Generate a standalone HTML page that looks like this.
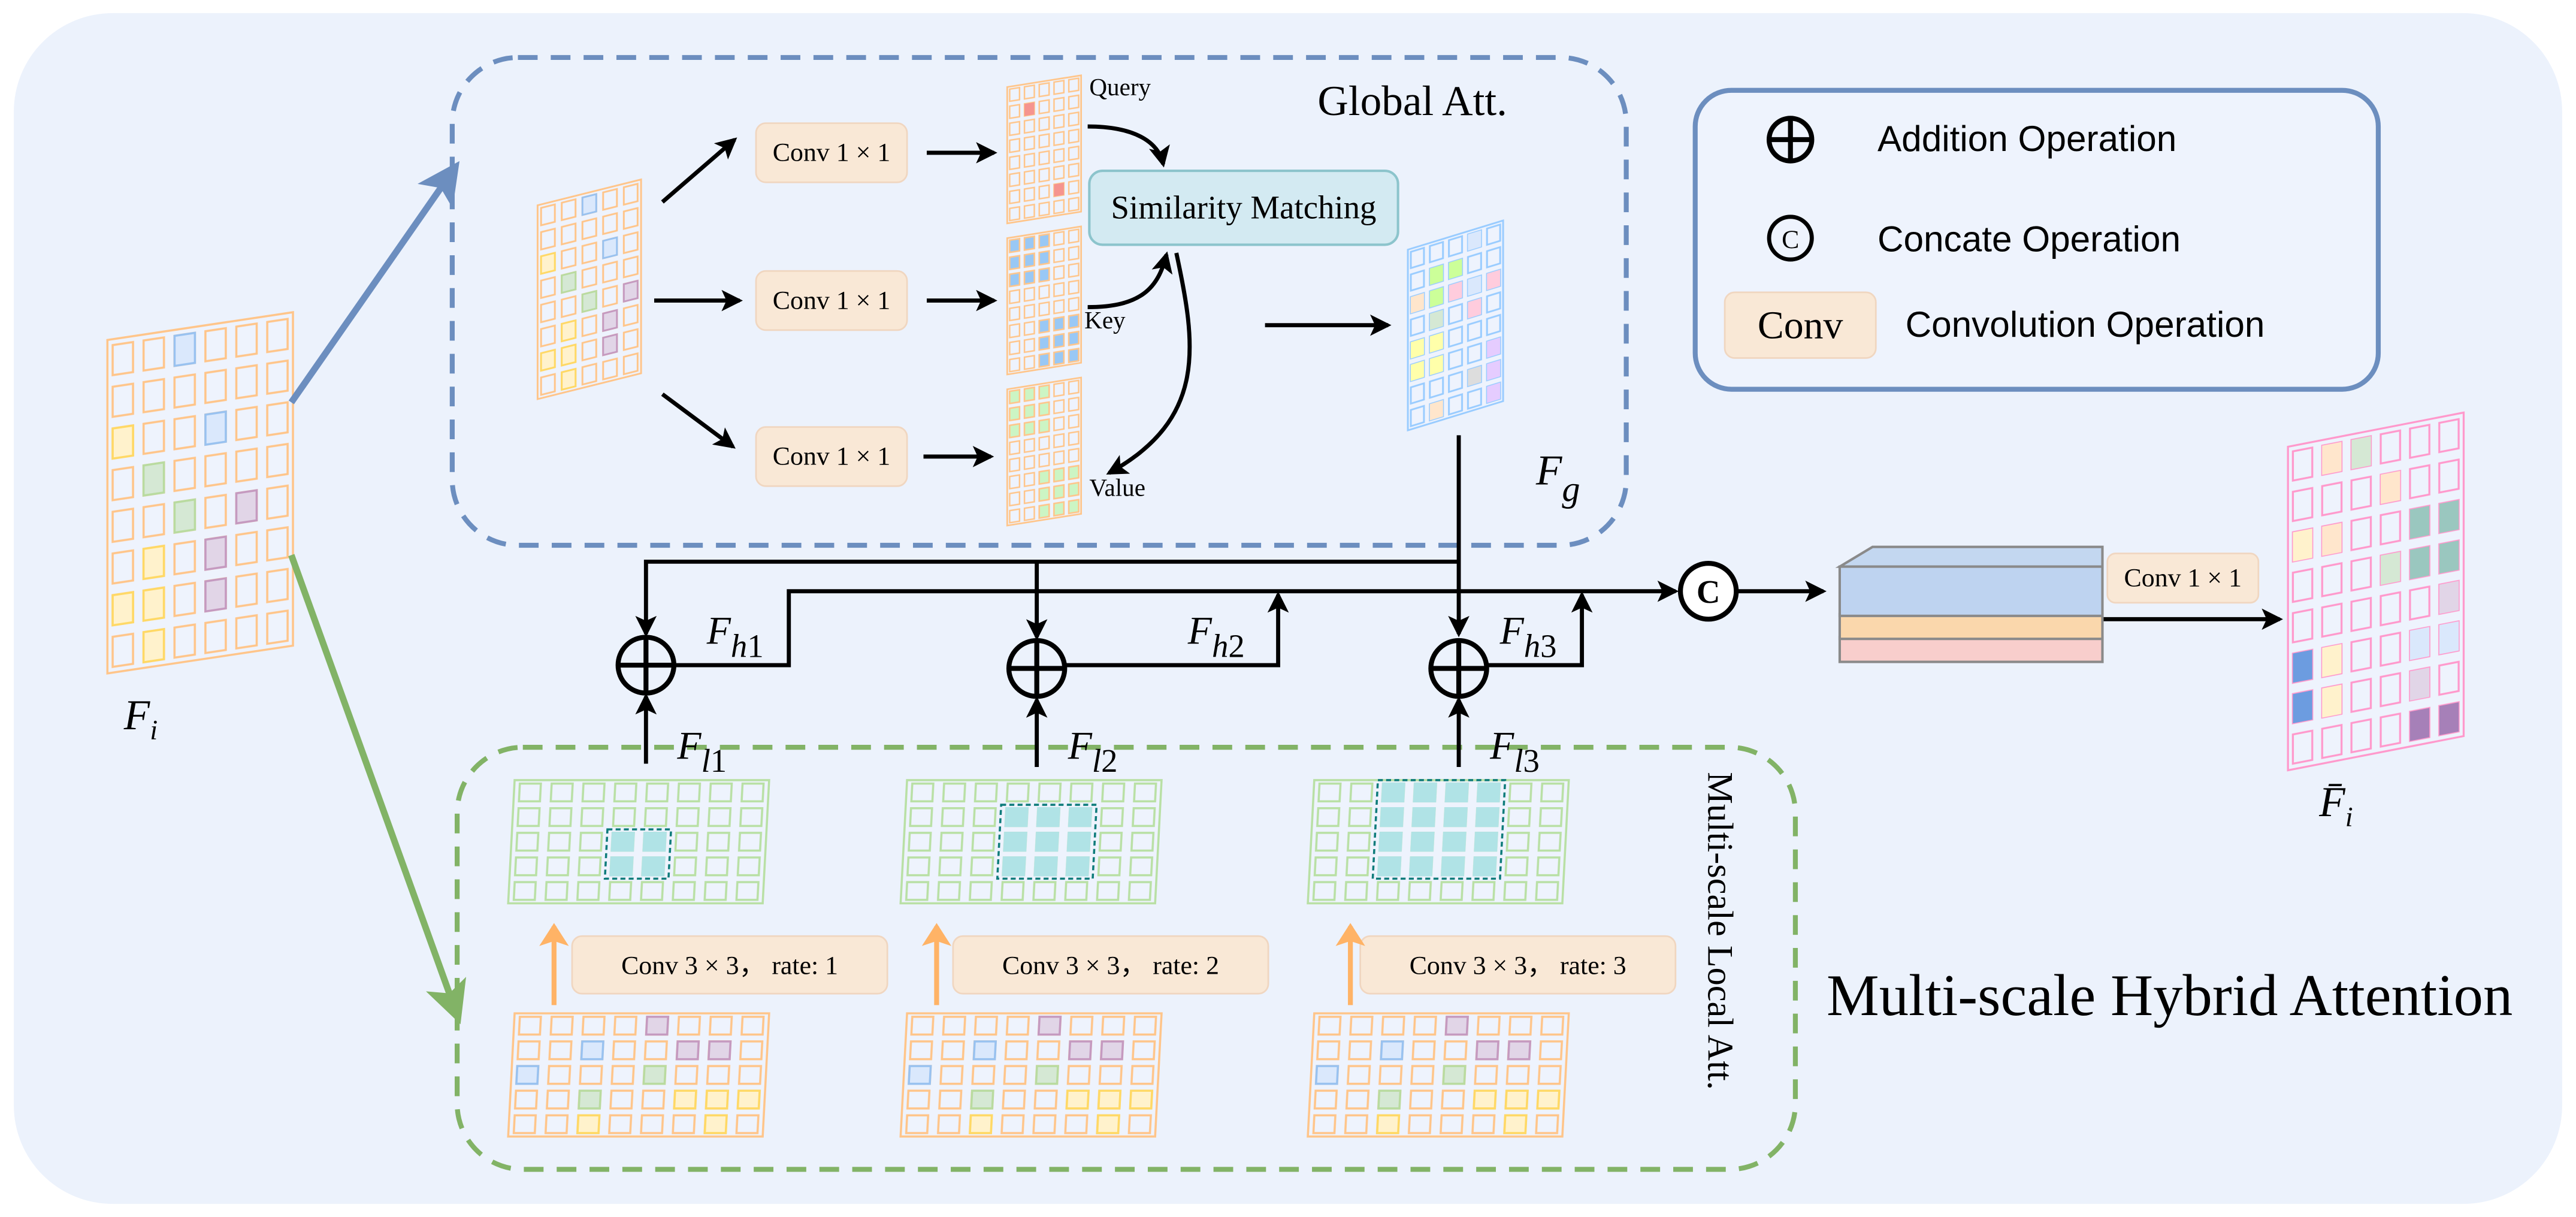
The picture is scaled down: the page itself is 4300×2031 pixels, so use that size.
<!DOCTYPE html>
<html><head><meta charset="utf-8"><style>
html,body{margin:0;padding:0;background:#fff;}
svg{display:block;}
</style></head><body>
<svg width="4300" height="2031" viewBox="0 0 1568 741" xmlns="http://www.w3.org/2000/svg">
<defs>
<marker id="ab" markerWidth="13" markerHeight="13" refX="11" refY="6.5" orient="auto" markerUnits="userSpaceOnUse" viewBox="0 0 13 13"><path d="M0,0 L13,6.5 L0,13 L3,6.5z" fill="#000"/></marker>
<marker id="abl" markerWidth="26" markerHeight="26" refX="20" refY="13" orient="auto" markerUnits="userSpaceOnUse" viewBox="0 0 26 26"><path d="M0,0 L26,13 L0,26 L6,13z" fill="#6c8ebf"/></marker>
<marker id="agr" markerWidth="26" markerHeight="26" refX="20" refY="13" orient="auto" markerUnits="userSpaceOnUse" viewBox="0 0 26 26"><path d="M0,0 L26,13 L0,26 L6,13z" fill="#82b366"/></marker>
<marker id="aor" markerWidth="14" markerHeight="18" refX="12" refY="9" orient="auto" markerUnits="userSpaceOnUse" viewBox="0 0 14 18"><path d="M0,0 L14,9 L0,18 L3,9z" fill="#ffb366"/></marker>
<pattern id="pFi" patternUnits="userSpaceOnUse" width="18.83" height="25.375"><rect x="3.2" y="3.6" width="12.4" height="18.3" fill="none" stroke="#ffc58a" stroke-width="1.3"/></pattern>
<pattern id="pIn" patternUnits="userSpaceOnUse" width="12.6" height="14.75"><rect x="2.1" y="2.1" width="8.4" height="10.6" fill="none" stroke="#ffc58a" stroke-width="1.1"/></pattern>
<pattern id="pQ" patternUnits="userSpaceOnUse" width="9" height="10.375"><rect x="1.5" y="1.5" width="6" height="7.4" fill="none" stroke="#ffc58a" stroke-width="0.9"/></pattern>
<pattern id="pKb" patternUnits="userSpaceOnUse" width="9" height="10.375"><rect x="1.5" y="1.5" width="6" height="7.4" fill="#99c8f5" stroke="#ffc58a" stroke-width="0.9"/></pattern>
<pattern id="pVg" patternUnits="userSpaceOnUse" width="9" height="10.375"><rect x="1.5" y="1.5" width="6" height="7.4" fill="#ccf5c4" stroke="#ffc58a" stroke-width="0.9"/></pattern>
<pattern id="pFg" patternUnits="userSpaceOnUse" width="11.6" height="13.75"><rect x="1.8" y="1.9" width="8" height="9.9" fill="none" stroke="#99ccff" stroke-width="1.1"/></pattern>
<pattern id="pOut" patternUnits="userSpaceOnUse" width="17.83" height="24.625"><rect x="3" y="3.4" width="11.8" height="17.8" fill="none" stroke="#ff99cc" stroke-width="1.2"/></pattern>
<pattern id="pLg" patternUnits="userSpaceOnUse" width="19.375" height="15"><rect x="3.3" y="2.1" width="12.8" height="10.8" fill="none" stroke="#b9e0a5" stroke-width="1.3"/></pattern>
<pattern id="pLc" patternUnits="userSpaceOnUse" width="19.375" height="15"><rect x="3.3" y="2.1" width="12.8" height="10.8" fill="#b0e3e6" stroke="#b0e3e6" stroke-width="1.3"/></pattern>
<pattern id="pLo" patternUnits="userSpaceOnUse" width="19.375" height="15"><rect x="3.3" y="2.1" width="12.8" height="10.8" fill="none" stroke="#ffc58a" stroke-width="1.3"/></pattern>
<g id="bot">
<rect x="0" y="0" width="155" height="75" fill="#eef3fd" stroke="#ffc58a" stroke-width="1.3"/>
<rect x="0" y="0" width="155" height="75" fill="url(#pLo)"/>
<g stroke-width="1.3">
<rect x="80.8" y="2.1" width="12.8" height="10.8" fill="#e1d5e7" stroke="#c59ac0"/>
<rect x="42.1" y="17.1" width="12.8" height="10.8" fill="#dae8fc" stroke="#99c2f0"/>
<rect x="100.2" y="17.1" width="12.8" height="10.8" fill="#e1d5e7" stroke="#c59ac0"/>
<rect x="119.6" y="17.1" width="12.8" height="10.8" fill="#e1d5e7" stroke="#c59ac0"/>
<rect x="3.3" y="32.1" width="12.8" height="10.8" fill="#dae8fc" stroke="#99c2f0"/>
<rect x="80.8" y="32.1" width="12.8" height="10.8" fill="#d5e8d4" stroke="#b9dba0"/>
<rect x="42.1" y="47.1" width="12.8" height="10.8" fill="#d5e8d4" stroke="#b9dba0"/>
<rect x="100.2" y="47.1" width="12.8" height="10.8" fill="#fff2cc" stroke="#ffd966"/>
<rect x="119.6" y="47.1" width="12.8" height="10.8" fill="#fff2cc" stroke="#ffd966"/>
<rect x="138.9" y="47.1" width="12.8" height="10.8" fill="#fff2cc" stroke="#ffd966"/>
<rect x="42.1" y="62.1" width="12.8" height="10.8" fill="#fff2cc" stroke="#ffd966"/>
<rect x="119.6" y="62.1" width="12.8" height="10.8" fill="#fff2cc" stroke="#ffd966"/>
</g>
</g>
<g id="lgb">
<rect x="0" y="0" width="155" height="75" fill="#eef3fd" stroke="#b9e0a5" stroke-width="1.3"/>
<rect x="0" y="0" width="155" height="75" fill="url(#pLg)"/>
</g>
</defs>
<rect x="8" y="8" width="1552" height="725" rx="60" fill="#ecf2fc"/>
<rect x="275" y="35" width="715" height="297" rx="40" fill="none" stroke="#6c8ebf" stroke-width="3" stroke-dasharray="12,8"/>
<rect x="278" y="455" width="815" height="257" rx="40" fill="none" stroke="#82b366" stroke-width="3" stroke-dasharray="12,8"/>
<rect x="1032" y="55" width="416" height="182" rx="22" fill="#eef3fd" stroke="#6c8ebf" stroke-width="3"/>

<g transform="translate(65,207) skewY(-8.5)">
<rect width="113" height="203" fill="#eef3fd" stroke="#ffc58a" stroke-width="1.3"/>
<rect width="113" height="203" fill="url(#pFi)"/>
<g stroke-width="1.3">
<rect x="40.9" y="3.6" width="12.4" height="18.3" fill="#dae8fc" stroke="#99c2f0"/>
<rect x="59.7" y="54.4" width="12.4" height="18.3" fill="#dae8fc" stroke="#99c2f0"/>
<rect x="3.2" y="54.4" width="12.4" height="18.3" fill="#fff2cc" stroke="#ffd966"/>
<rect x="22" y="79.7" width="12.4" height="18.3" fill="#d5e8d4" stroke="#b9dba0"/>
<rect x="40.9" y="105.1" width="12.4" height="18.3" fill="#d5e8d4" stroke="#b9dba0"/>
<rect x="78.5" y="105.1" width="12.4" height="18.3" fill="#e1d5e7" stroke="#c59ac0"/>
<rect x="59.7" y="130.5" width="12.4" height="18.3" fill="#e1d5e7" stroke="#c59ac0"/>
<rect x="59.7" y="155.9" width="12.4" height="18.3" fill="#e1d5e7" stroke="#c59ac0"/>
<rect x="22" y="130.5" width="12.4" height="18.3" fill="#fff2cc" stroke="#ffd966"/>
<rect x="3.2" y="155.9" width="12.4" height="18.3" fill="#fff2cc" stroke="#ffd966"/>
<rect x="22" y="155.9" width="12.4" height="18.3" fill="#fff2cc" stroke="#ffd966"/>
<rect x="22" y="181.2" width="12.4" height="18.3" fill="#fff2cc" stroke="#ffd966"/>
</g></g>

<g transform="translate(327,125) skewY(-14)">
<rect width="63" height="118" fill="#eef3fd" stroke="#ffc58a" stroke-width="1.1"/>
<rect width="63" height="118" fill="url(#pIn)"/>
<g stroke-width="1.1">
<rect x="27.3" y="2.1" width="8.4" height="10.6" fill="#dae8fc" stroke="#99c2f0"/>
<rect x="39.9" y="31.6" width="8.4" height="10.6" fill="#dae8fc" stroke="#99c2f0"/>
<rect x="2.1" y="31.6" width="8.4" height="10.6" fill="#fff2cc" stroke="#ffd966"/>
<rect x="14.7" y="46.35" width="8.4" height="10.6" fill="#d5e8d4" stroke="#b9dba0"/>
<rect x="27.3" y="61.1" width="8.4" height="10.6" fill="#d5e8d4" stroke="#b9dba0"/>
<rect x="52.5" y="61.1" width="8.4" height="10.6" fill="#e1d5e7" stroke="#c59ac0"/>
<rect x="39.9" y="75.85" width="8.4" height="10.6" fill="#e1d5e7" stroke="#c59ac0"/>
<rect x="39.9" y="90.6" width="8.4" height="10.6" fill="#e1d5e7" stroke="#c59ac0"/>
<rect x="14.7" y="75.85" width="8.4" height="10.6" fill="#fff2cc" stroke="#ffd966"/>
<rect x="2.1" y="90.6" width="8.4" height="10.6" fill="#fff2cc" stroke="#ffd966"/>
<rect x="14.7" y="90.6" width="8.4" height="10.6" fill="#fff2cc" stroke="#ffd966"/>
<rect x="14.7" y="105.35" width="8.4" height="10.6" fill="#fff2cc" stroke="#ffd966"/>
</g></g>

<!-- Query -->
<g transform="translate(613,53) skewY(-9)">
<rect width="45" height="83" fill="#eef3fd" stroke="#ffc58a" stroke-width="1"/>
<rect width="45" height="83" fill="url(#pQ)"/>
<rect x="10.5" y="11.9" width="6" height="7.4" fill="#f5948f"/>
<rect x="28.5" y="63.75" width="6" height="7.4" fill="#f5948f"/>
</g>
<!-- Key -->
<g transform="translate(613,145) skewY(-9)">
<rect width="45" height="83" fill="#eef3fd" stroke="#ffc58a" stroke-width="1"/>
<rect width="45" height="83" fill="url(#pQ)"/>
<rect x="0" y="0" width="27" height="31.1" fill="url(#pKb)"/>
<rect x="18" y="51.9" width="27" height="31.1" fill="url(#pKb)"/>
</g>
<!-- Value -->
<g transform="translate(613,237) skewY(-9)">
<rect width="45" height="83" fill="#eef3fd" stroke="#ffc58a" stroke-width="1"/>
<rect width="45" height="83" fill="url(#pQ)"/>
<rect x="0" y="0" width="27" height="31.1" fill="url(#pVg)"/>
<rect x="18" y="51.9" width="27" height="31.1" fill="url(#pVg)"/>
</g>
<!-- Fg -->
<g transform="translate(857,152) skewY(-17)">
<rect width="58" height="110" fill="#eef3fd" stroke="#99ccff" stroke-width="1.1"/>
<rect width="58" height="110" fill="url(#pFg)"/>
<g stroke="none">
<rect x="36.6" y="1.9" width="8" height="9.9" fill="#dae8fc"/>
<rect x="13.4" y="15.65" width="8" height="9.9" fill="#ccff99"/>
<rect x="25" y="15.65" width="8" height="9.9" fill="#ccff99"/>
<rect x="13.4" y="29.4" width="8" height="9.9" fill="#ccff99"/>
<rect x="1.8" y="29.4" width="8" height="9.9" fill="#ffe6cc"/>
<rect x="25" y="29.4" width="8" height="9.9" fill="#ffccdd"/>
<rect x="48.2" y="29.4" width="8" height="9.9" fill="#ffccdd"/>
<rect x="36.6" y="29.4" width="8" height="9.9" fill="#dae8fc"/>
<rect x="36.6" y="43.15" width="8" height="9.9" fill="#ffccdd"/>
<rect x="13.4" y="43.15" width="8" height="9.9" fill="#d5e8d4"/>
<rect x="1.8" y="56.9" width="8" height="9.9" fill="#ffffaa"/>
<rect x="13.4" y="56.9" width="8" height="9.9" fill="#ffffaa"/>
<rect x="1.8" y="70.65" width="8" height="9.9" fill="#ffffaa"/>
<rect x="13.4" y="70.65" width="8" height="9.9" fill="#ffffaa"/>
<rect x="48.2" y="70.65" width="8" height="9.9" fill="#e5ccff"/>
<rect x="36.6" y="84.4" width="8" height="9.9" fill="#dddddd"/>
<rect x="48.2" y="84.4" width="8" height="9.9" fill="#e5ccff"/>
<rect x="48.2" y="98.15" width="8" height="9.9" fill="#e5ccff"/>
<rect x="13.4" y="98.15" width="8" height="9.9" fill="#ffe6cc"/>
</g></g>
<!-- Output -->
<g transform="translate(1393,272) skewY(-11)">
<rect width="107" height="197" fill="#eef3fd" stroke="#ff99cc" stroke-width="1.2"/>
<rect width="107" height="197" fill="url(#pOut)"/>
<g stroke="none">
<rect x="38.7" y="3.4" width="11.8" height="17.8" fill="#d5e8d4"/>
<rect x="20.8" y="3.4" width="11.8" height="17.8" fill="#ffe6cc"/>
<rect x="56.5" y="28" width="11.8" height="17.8" fill="#ffe6cc"/>
<rect x="3" y="52.7" width="11.8" height="17.8" fill="#fff2cc"/>
<rect x="20.8" y="52.7" width="11.8" height="17.8" fill="#ffe6cc"/>
<rect x="74.3" y="52.7" width="11.8" height="17.8" fill="#9ac7bf"/>
<rect x="92.2" y="52.7" width="11.8" height="17.8" fill="#9ac7bf"/>
<rect x="74.3" y="77.3" width="11.8" height="17.8" fill="#9ac7bf"/>
<rect x="92.2" y="77.3" width="11.8" height="17.8" fill="#9ac7bf"/>
<rect x="56.5" y="77.3" width="11.8" height="17.8" fill="#d5e8d4"/>
<rect x="92.2" y="101.9" width="11.8" height="17.8" fill="#e1d5e7"/>
<rect x="3" y="126.5" width="11.8" height="17.8" fill="#6c9ce0"/>
<rect x="20.8" y="126.5" width="11.8" height="17.8" fill="#fff2cc"/>
<rect x="74.3" y="126.5" width="11.8" height="17.8" fill="#dae8fc"/>
<rect x="92.2" y="126.5" width="11.8" height="17.8" fill="#dae8fc"/>
<rect x="3" y="151.2" width="11.8" height="17.8" fill="#6c9ce0"/>
<rect x="20.8" y="151.2" width="11.8" height="17.8" fill="#fff2cc"/>
<rect x="74.3" y="151.2" width="11.8" height="17.8" fill="#e1d5e7"/>
<rect x="74.3" y="175.8" width="11.8" height="17.8" fill="#a680b8"/>
<rect x="92.2" y="175.8" width="11.8" height="17.8" fill="#a680b8"/>
</g></g>
<g transform="translate(313,475) skewX(-3)"><use href="#lgb"/>
<rect x="58.1" y="30" width="38.75" height="30" fill="url(#pLc)"/>
<rect x="58.1" y="30" width="38.75" height="30" fill="none" stroke="#0e7c7b" stroke-width="1.3" stroke-dasharray="3,2"/></g>
<g transform="translate(552,475) skewX(-3)"><use href="#lgb"/>
<rect x="58.1" y="15" width="58.1" height="45" fill="url(#pLc)"/>
<rect x="58.1" y="15" width="58.1" height="45" fill="none" stroke="#0e7c7b" stroke-width="1.3" stroke-dasharray="3,2"/></g>
<g transform="translate(800,475) skewX(-3)"><use href="#lgb"/>
<rect x="38.75" y="0" width="77.5" height="60" fill="url(#pLc)"/>
<rect x="38.75" y="0" width="77.5" height="60" fill="none" stroke="#0e7c7b" stroke-width="1.3" stroke-dasharray="3,2"/></g>
<g transform="translate(313,617) skewX(-3)"><use href="#bot"/></g>
<g transform="translate(552,617) skewX(-3)"><use href="#bot"/></g>
<g transform="translate(800,617) skewX(-3)"><use href="#bot"/></g>

<g font-family="Liberation Serif, serif" fill="#000">
<text x="802" y="70" font-size="26">Global Att.</text>
<text x="663" y="58" font-size="15">Query</text>
<text x="660" y="200" font-size="15">Key</text>
<text x="663" y="302" font-size="15">Value</text>
<text x="1112" y="618" font-size="36">Multi-scale Hybrid Attention</text>
<text transform="translate(1040,470) rotate(90)" font-size="22">Multi-scale Local Att.</text>
</g>
<g font-family="Liberation Serif, serif" font-size="16" text-anchor="middle">
<rect x="460" y="75" width="92" height="36" rx="6" fill="#f9e8d6" stroke="#f0d6c0"/><text x="506" y="98">Conv 1 × 1</text>
<rect x="460" y="165" width="92" height="36" rx="6" fill="#f9e8d6" stroke="#f0d6c0"/><text x="506" y="188">Conv 1 × 1</text>
<rect x="460" y="260" width="92" height="36" rx="6" fill="#f9e8d6" stroke="#f0d6c0"/><text x="506" y="283">Conv 1 × 1</text>
<rect x="663" y="104" width="188" height="45" rx="8" fill="#d3eaf2" stroke="#8cc4cc" stroke-width="1.5"/><text x="757" y="133" font-size="20">Similarity Matching</text>
<rect x="1283" y="337" width="92" height="30" rx="5" fill="#f9e8d6" stroke="#f0d6c0"/><text x="1329" y="357">Conv 1 × 1</text>
<rect x="348" y="570" width="192" height="35" rx="6" fill="#f9e8d6" stroke="#f0d6c0"/><text x="444" y="593">Conv 3 × 3， rate: 1</text>
<rect x="580" y="570" width="192" height="35" rx="6" fill="#f9e8d6" stroke="#f0d6c0"/><text x="676" y="593">Conv 3 × 3， rate: 2</text>
<rect x="828" y="570" width="192" height="35" rx="6" fill="#f9e8d6" stroke="#f0d6c0"/><text x="924" y="593">Conv 3 × 3， rate: 3</text>
</g>
<g>
<circle cx="1090" cy="85" r="13" fill="none" stroke="#000" stroke-width="3"/><path d="M1077,85H1103M1090,72V98" stroke="#000" stroke-width="3"/>
<circle cx="1090" cy="145" r="13" fill="none" stroke="#000" stroke-width="2.5"/><text x="1090" y="151" font-family="Liberation Serif, serif" font-size="16" text-anchor="middle">C</text>
<rect x="1050" y="178" width="92" height="40" rx="6" fill="#f9e8d6" stroke="#f0d6c0"/><text x="1096" y="206" font-family="Liberation Serif, serif" font-size="24" text-anchor="middle">Conv</text>
<g font-family="Liberation Sans, sans-serif" font-size="22"><text x="1143" y="92">Addition Operation</text><text x="1143" y="153">Concate Operation</text><text x="1160" y="205">Convolution Operation</text></g>
</g>
<line x1="177" y1="245" x2="276" y2="103" stroke="#6c8ebf" stroke-width="4" marker-end="url(#abl)"/>
<line x1="177" y1="338" x2="278" y2="618" stroke="#82b366" stroke-width="4" marker-end="url(#agr)"/>
<g stroke="#000" stroke-width="2.5" fill="none">
<line x1="403" y1="123" x2="447" y2="85" marker-end="url(#ab)"/>
<line x1="398" y1="183" x2="450" y2="183" marker-end="url(#ab)"/>
<line x1="403" y1="240" x2="446" y2="272" marker-end="url(#ab)"/>
<line x1="564" y1="93" x2="605" y2="93" marker-end="url(#ab)"/>
<line x1="564" y1="183" x2="605" y2="183" marker-end="url(#ab)"/>
<line x1="562" y1="278" x2="603" y2="278" marker-end="url(#ab)"/>
<path d="M662,77 C690,77 705,86 708,100" marker-end="url(#ab)"/>
<path d="M662,187 C695,187 705,175 710,155" marker-end="url(#ab)"/>
<path d="M716,154 C728,210 735,255 675,288" marker-end="url(#ab)"/>
<line x1="770" y1="198" x2="845" y2="198" marker-end="url(#ab)"/>
<line x1="888" y1="265" x2="888" y2="386" marker-end="url(#ab)"/>
<polyline points="888,342 393,342 393,386" marker-end="url(#ab)"/>
<line x1="631" y1="342" x2="631" y2="388" marker-end="url(#ab)"/>
<polyline points="410,405 480,405 480,360 1020,360" marker-end="url(#ab)"/>
<polyline points="648,405 778,405 778,362" marker-end="url(#ab)"/>
<polyline points="905,405 963,405 963,362" marker-end="url(#ab)"/>
<line x1="1058" y1="360" x2="1110" y2="360" marker-end="url(#ab)"/>
<line x1="1280" y1="377" x2="1388" y2="377" marker-end="url(#ab)"/>
<line x1="393" y1="465" x2="393" y2="424" marker-end="url(#ab)"/>
<line x1="631" y1="467" x2="631" y2="426" marker-end="url(#ab)"/>
<line x1="888" y1="467" x2="888" y2="426" marker-end="url(#ab)"/>
</g>
<g stroke="#000" stroke-width="3" fill="#ecf2fc">
<circle cx="393" cy="405" r="17"/><path d="M376,405H410M393,388V422" fill="none"/>
<circle cx="631" cy="407" r="17"/><path d="M614,407H648M631,390V424" fill="none"/>
<circle cx="888" cy="407" r="17"/><path d="M871,407H905M888,390V424" fill="none"/>
<circle cx="1040" cy="360" r="17" fill="#fff"/>
</g>
<text x="1040" y="367" font-family="Liberation Serif, serif" font-size="20" font-weight="bold" text-anchor="middle">C</text>
<g stroke="#ffb366" stroke-width="3">
<line x1="337" y1="612" x2="337" y2="564" marker-end="url(#aor)"/>
<line x1="570" y1="612" x2="570" y2="564" marker-end="url(#aor)"/>
<line x1="822" y1="612" x2="822" y2="564" marker-end="url(#aor)"/>
</g>
<g stroke="#8a8a8a" stroke-width="1.5">
<rect x="1120" y="388" width="160" height="15" fill="#f8cecc"/>
<rect x="1120" y="374" width="160" height="15" fill="#fad7ac"/>
<polygon points="1120,345 1140,333 1280,333 1280,345" fill="#c3d7f0"/>
<rect x="1120" y="345" width="160" height="30" fill="#bed3f0"/>
</g>
<g font-family="Liberation Serif, serif" font-style="italic" font-size="26">
<text x="75" y="444">F<tspan font-size="17" dy="6">i</tspan></text>
<text x="935" y="295">F<tspan font-size="22" dy="10">g</tspan></text>
<text x="430" y="392" font-size="24">F<tspan font-size="20" dy="8">h</tspan><tspan font-style="normal" font-size="20">1</tspan></text>
<text x="723" y="392" font-size="24">F<tspan font-size="20" dy="8">h</tspan><tspan font-style="normal" font-size="20">2</tspan></text>
<text x="913" y="392" font-size="24">F<tspan font-size="20" dy="8">h</tspan><tspan font-style="normal" font-size="20">3</tspan></text>
<text x="412" y="462" font-size="24">F<tspan font-size="20" dy="8">l</tspan><tspan font-style="normal" font-size="20">1</tspan></text>
<text x="650" y="462" font-size="24">F<tspan font-size="20" dy="8">l</tspan><tspan font-style="normal" font-size="20">2</tspan></text>
<text x="907" y="462" font-size="24">F<tspan font-size="20" dy="8">l</tspan><tspan font-style="normal" font-size="20">3</tspan></text>
<text x="1412" y="497">F̄<tspan font-size="17" dy="6">i</tspan></text>
</g>
</svg>
</body></html>
